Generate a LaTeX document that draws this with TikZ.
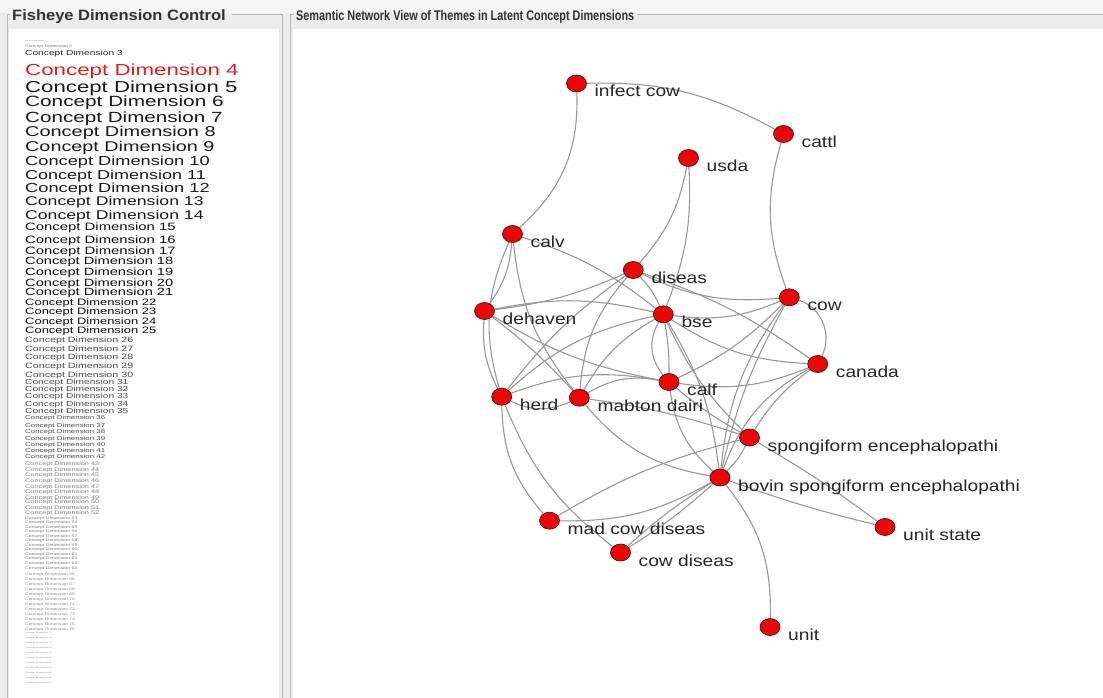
\documentclass[tikz,border=0pt]{standalone}
\usepackage{fontspec}
\usepackage{graphicx}
\setmainfont{Liberation Sans}
\usetikzlibrary{shapes.geometric}
\pgfdeclarelayer{panel}
\pgfdeclarelayer{edges}
\pgfsetlayers{panel,edges,main}
\definecolor{nodered}{RGB}{232,8,8}
\definecolor{noderim}{RGB}{90,10,10}
\definecolor{framegray}{RGB}{184,184,184}
\definecolor{winbg}{RGB}{236,236,236}
\definecolor{fisheyered}{RGB}{226,30,30}
\newcommand\wide[1]{\scalebox{1.2}[1]{#1}}
\newcommand\squat[1]{\scalebox{1.2}[0.86]{#1}}
\newcommand\vtx[4]{%
  \node[vtx] (#1) at (#2,#3) {};
  \node[lab] (#1-t) at ([shift={(18,13.5)}]#1.center) {\wide{#4}};}
\begin{document}
\begin{tikzpicture}[x=1pt,y=-1pt,
  vtx/.style={ellipse, draw=noderim, line width=0.7pt, fill=nodered,
              minimum width=20pt, minimum height=17pt, inner sep=0pt},
  lab/.style={anchor=base west, inner sep=0pt, text=black!85,
              font=\fontsize{16}{16}\selectfont},
  edge/.style={draw=black!40, line width=1.1pt},
  frameline/.style={draw=framegray, line width=1pt},
  fe/.style={anchor=base west, inner sep=0pt}]
\useasboundingbox (0,0) rectangle (1103,698);

% window background, panels and titled borders
\begin{pgfonlayer}{panel}
  \fill[winbg] (0,0) rectangle (1103,698);
  \fill[black!4] (0,0) rectangle (1103,13);
  \fill[white] (9,29) rectangle (279,698);
  \fill[white] (293,29) rectangle (1103,698);
  \draw[frameline] (10,15) -- (7,15) -- (7,698);
  \draw[frameline] (232,15) -- (282,15) -- (282,698);
  \draw[frameline] (294,15) -- (290,15) -- (290,698);
  \draw[frameline] (637,15) -- (1103,15);
\end{pgfonlayer}
\node[fe, font=\bfseries\fontsize{15}{15}\selectfont, text=black!80]
  (ttl-left) at (12,20.5) {\scalebox{1.1}[1]{Fisheye Dimension Control}};
\node[fe, font=\bfseries\fontsize{14}{14}\selectfont, text=black!80]
  (ttl-right) at (296,21) {\scalebox{0.775}[1]{Semantic Network View of Themes in Latent Concept Dimensions}};

% fisheye list of concept dimensions
\foreach \n/\y/\s/\c in {
  1/42/1.8/black!45, 2/47.5/4.1/black!55, 3/55.5/8.5/black!85,
  4/76/18.6/fisheyered, 5/93/18.5/black!90, 6/107/17.3/black!90,
  7/123/17.2/black!90, 8/137/16.6/black!90, 9/151/16.5/black!90,
  10/165/15.2/black!90, 11/179/15.0/black!90, 12/193/15.2/black!90,
  13/205/14.7/black!90, 14/219/14.7/black!90,
  15/230/12.4/black!95, 16/243/12.4/black!95, 17/254/12.4/black!95,
  18/264/12.2/black!95, 19/275/12.2/black!95, 20/286/12.2/black!95,
  21/295/12.2/black!95,
  22/305/10.8/black!95, 23/314/10.8/black!95, 24/324/10.8/black!95,
  25/333/10.8/black!95,
  26/342/8.9/black!70, 27/351/8.9/black!70, 28/359/8.9/black!70,
  29/368/8.9/black!70, 30/377/8.9/black!70,
  31/384/8.5/black!70, 32/391/8.5/black!70, 33/398/8.5/black!70,
  34/406/8.5/black!70, 35/413/8.5/black!70,
  36/419/6.6/black!70, 37/427/6.6/black!70, 38/433/6.6/black!70,
  39/440/6.6/black!70, 40/446/6.6/black!70, 41/452/6.6/black!70,
  42/458/6.6/black!70,
  43/465/6.1/black!50, 44/471/6.1/black!50, 45/476/6.1/black!50,
  46/482/6.1/black!50, 47/488/6.1/black!50, 48/493/6.1/black!50,
  49/499/6.1/black!50, 50/503/6.1/black!50, 51/509/6.1/black!50,
  52/514/6.1/black!50}
{
  \node[fe, text=\c, font=\fontsize{\s}{\s}\selectfont] (fd\n) at (25,\y)
    {\squat{Concept Dimension \n}};
}
\foreach \n in {53,...,64}
{
  \node[fe, text=black!50, font=\fontsize{4.3}{4.3}\selectfont] (fd\n)
    at (25,{519+(\n-53)*4.55}) {\squat{Concept Dimension \n}};
}
\foreach \n in {65,...,76}
{
  \node[fe, text=black!45, font=\fontsize{4.1}{4.1}\selectfont] (fd\n)
    at (25,{575+(\n-65)*5}) {\squat{Concept Dimension \n}};
}
\foreach \n in {77,...,87}
{
  \node[fe, text=black!45, font=\fontsize{2.2}{2.2}\selectfont] (fd\n)
    at (25,{633+(\n-77)*5}) {\squat{Concept Dimension \n}};
}

% theme vertices
\vtx{inf}{576.5}{83.5}{infect cow}
\vtx{cat}{783.5}{134}{cattl}
\vtx{usda}{688.5}{158}{usda}
\vtx{calv}{512.5}{234}{calv}
\vtx{dis}{633.3}{270}{diseas}
\vtx{deh}{484.5}{311}{dehaven}
\vtx{bse}{663.3}{314.3}{bse}
\vtx{cow}{789.3}{297.3}{cow}
\vtx{can}{817.7}{364}{canada}
\vtx{calf}{669}{382}{calf}
\vtx{herd}{501.7}{396.7}{herd}
\vtx{mab}{579.3}{397.7}{mabton dairi}
\vtx{sp}{749.5}{437.5}{spongiform encephalopathi}
\vtx{bov}{720}{477.5}{bovin spongiform encephalopathi}
\vtx{mad}{549.5}{520.7}{mad cow diseas}
\vtx{cowd}{620.5}{552.5}{cow diseas}
\vtx{us}{885}{527}{unit state}
\vtx{unit}{770}{627}{unit}

% connections between themes
\begin{pgfonlayer}{edges}
\draw[edge] (inf) to[bend left=15] (cat);
\draw[edge] (inf) to[bend left=25] (calv);
\draw[edge] (cat) to[bend right=18] (cow);
\draw[edge] (usda) to[bend left=15] (dis);
\draw[edge] (usda) to[bend left=12] (bse);
\draw[edge] (calv) to[bend left=15] (deh);
\draw[edge] (calv) to[bend right=20] (herd);
\draw[edge] (calv) to[bend right=16] (mab);
\draw[edge] (calv) to[bend left=10] (bse);
\draw[edge] (dis) to[bend left=8] (deh);
\draw[edge] (dis) to[bend right=8] (herd);
\draw[edge] (dis) to[bend right=18] (mab);
\draw[edge] (dis) to[bend left=10] (bse);
\draw[edge] (dis) to[bend right=15] (cow);
\draw[edge] (dis) to[bend left=8] (can);
\draw[edge] (deh) to[bend left=12] (bse);
\draw[edge] (deh) to[bend right=15] (herd);
\draw[edge] (deh) to[bend left=5] (mab);
\draw[edge] (deh) to[bend right=10] (calf);
\draw[edge] (bse) to[bend right=15] (herd);
\draw[edge] (bse) to[bend right=15] (mab);
\draw[edge] (bse) to[bend right=35] (calf);
\draw[edge] (bse) to[bend left=5] (calf);
\draw[edge] (bse) to[bend right=15] (cow);
\draw[edge] (bse) to[bend right=15] (can);
\draw[edge] (bse) to[bend right=10] (sp);
\draw[edge] (bse) to[bend left=12] (bov);
\draw[edge] (cow) to[bend left=10] (calf);
\draw[edge] (cow) to[bend left=50] (can);
\draw[edge] (cow) to[bend right=15] (bov);
\draw[edge] (cow) to[bend right=8] (bov);
\draw[edge] (can) to[bend left=15] (calf);
\draw[edge] (can) to[bend right=10] (sp);
\draw[edge] (can) to[bend right=20] (bov);
\draw[edge] (calf) to[bend right=15] (herd);
\draw[edge] (calf) to[bend right=20] (mab);
\draw[edge] (calf) to[bend right=5] (sp);
\draw[edge] (calf) to[bend right=20] (bov);
\draw[edge] (herd) to[bend right=25] (mab);
\draw[edge] (herd) to[bend right=20] (mad);
\draw[edge] (herd) to[bend right=15] (cowd);
\draw[edge] (mab) to[bend left=5] (sp);
\draw[edge] (mab) to[bend right=20] (bov);
\draw[edge] (sp) to[bend left=10] (bov);
\draw[edge] (sp) to[bend right=8] (mad);
\draw[edge] (sp) to[bend left=3] (us);
\draw[edge] (bov) to[bend right=3] (us);
\draw[edge] (bov) to[bend left=15] (mad);
\draw[edge] (bov) to[bend left=5] (cowd);
\draw[edge] (bov) to[bend right=5] (cowd);
\draw[edge] (bov) to[bend left=20] (unit);
\end{pgfonlayer}
\end{tikzpicture}
\end{document}
